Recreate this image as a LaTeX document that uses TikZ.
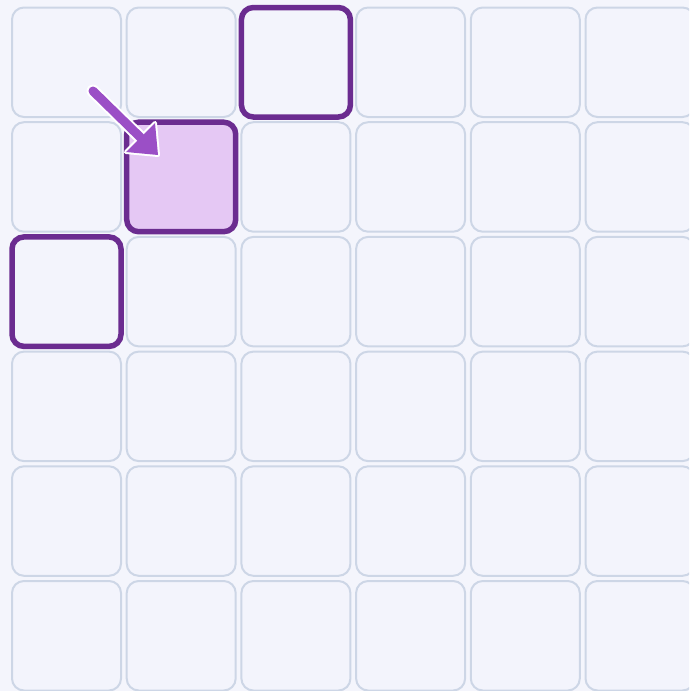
\documentclass[tikz,border=0pt]{standalone}
\usetikzlibrary{calc}
\definecolor{bg}{HTML}{F4F5FC}
\definecolor{cellfill}{HTML}{F3F4FC}
\definecolor{gridline}{HTML}{CDD6E6}
\definecolor{hl}{HTML}{6B2C90}
\definecolor{hlfill}{HTML}{E5C8F4}
\definecolor{arrowc}{HTML}{9B4FC6}
\tikzset{
  cellbox/.style={draw=gridline, line width=2pt, fill=cellfill, rounded corners=12pt},
  hlbox/.style={draw=hl, line width=5.5pt, rounded corners=12pt},
}
\begin{document}
\begin{tikzpicture}[x=1pt,y=-1pt]
\fill[bg] (0,0) rectangle (689,691);
\useasboundingbox (0,0) rectangle (689,691);
\begin{scope}
\clip (0,0) rectangle (689,691);
\foreach \r in {0,...,5}{
  \foreach \c in {0,...,5}{
    \pgfmathsetmacro{\xx}{12+\c*114.7}
    \pgfmathsetmacro{\yy}{7.5+\r*114.7}
    \draw[cellbox] (\xx,\yy) rectangle ++(109,109.5);
    \coordinate (c-\r-\c) at (\xx,\yy);
  }
}
\draw[hlbox] (c-0-2) rectangle ++(109,109.5);
\draw[hlbox, fill=hlfill] (c-1-1) rectangle ++(109,109.5);
\draw[hlbox] (c-2-0) rectangle ++(109,109.5);
\end{scope}
% arrow
\coordinate (as) at (93,91);
\coordinate (ab) at (140.5,137.5);
\coordinate (at) at (158,155);
\coordinate (b1) at (155,123);
\coordinate (b2) at (126,152);
\draw[white, line width=13pt, line cap=round] (as) -- (ab);
\draw[white, fill=white, line width=4pt, line join=round] (at) -- (b1) -- (b2) -- cycle;
\draw[arrowc, line width=9pt, line cap=round] (as) -- (ab);
\fill[arrowc] (at) -- (b1) -- (b2) -- cycle;
\end{tikzpicture}
\end{document}
